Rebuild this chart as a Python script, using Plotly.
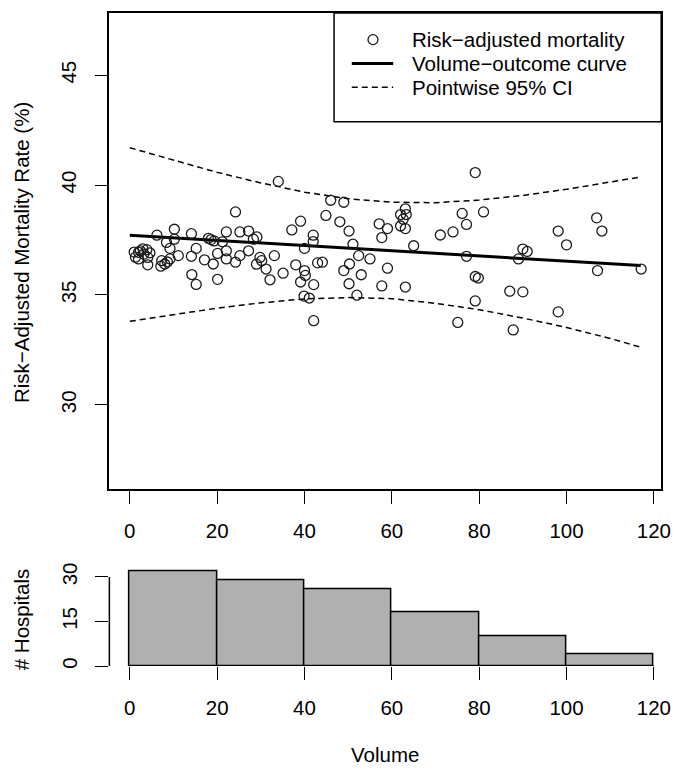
import plotly.graph_objects as go

# ---------------- data ----------------
volume = [6.2, 10.2, 8.4, 10.2, 9.2, 14.1, 18.0, 19.3, 15.2, 2.4, 3.9, 2.0, 2.0, 4.1, 4.1, 3.2,
          7.3, 7.1, 8.0, 9.2, 11.1, 14.1, 17.1, 19.1, 14.2, 15.2, 1.0, 1.3, 3.0, 4.6, 8.6, 18.6,
          20.1, 20.1, 21.2, 22.1, 22.1, 22.1, 24.2, 24.2, 25.2, 25.2, 27.2, 27.2, 28.3, 29.0, 29.1,
          29.8, 30.2, 31.2, 32.1, 33.1, 34.0, 35.1, 37.1, 38.0, 39.1, 39.1, 40.0, 40.0, 39.9,
          40.2, 41.1, 42.0, 42.0, 42.1, 42.1, 43.0, 44.1, 44.9, 46.0, 48.1, 49.0, 49.0, 50.2, 50.3,
          50.2, 51.1, 52.4, 52.0, 53.0, 55.0, 57.1, 57.7, 57.7, 59.0, 59.0,
          63.1, 62.0, 63.3, 62.0, 63.1, 62.6, 65.0, 71.1, 74.0, 76.1, 77.1, 77.1, 63.1, 79.1, 79.1,
          79.8, 79.1, 75.1,
          81.0, 87.0, 87.8, 98.1, 90.0, 91.0, 89.0, 90.0, 98.1, 100.0,
          106.9, 108.1, 107.1, 117.1]
mortality = [37.72, 37.99, 37.39, 37.54, 37.12, 37.79, 37.58, 37.46, 37.12, 37.01, 37.06, 36.94, 36.64,
             36.71, 36.37, 36.86, 36.56, 36.31, 36.41, 36.64, 36.79, 36.76, 36.60, 36.41, 35.93, 35.48,
             36.95, 36.72, 37.10, 36.92, 36.50, 37.52,
             35.71, 36.89, 37.42, 37.87, 37.01, 36.64, 38.78, 36.49, 37.87, 36.79, 37.91, 37.01, 37.54,
             36.40, 37.64, 36.71, 36.56, 36.18, 35.69, 36.79, 40.17, 35.99, 37.96, 36.37, 38.36, 35.59,
             37.12, 36.11, 34.95,
             35.89, 34.86, 37.72, 37.43, 35.47, 33.83, 36.46, 36.49, 38.62, 39.31, 38.33, 39.22, 36.11,
             37.91, 36.41, 35.51, 37.31, 36.79, 34.99, 35.92, 36.64, 38.24, 37.61, 35.41, 38.02, 36.22,
             38.92, 38.66, 38.66, 38.14, 38.02, 38.45, 37.24, 37.73, 37.87, 38.71, 38.21, 36.76, 35.36,
             40.57, 35.84, 35.77, 34.73, 33.75,
             38.78, 35.17, 33.41, 37.91, 37.09, 36.98, 36.64, 35.14, 34.23, 37.28,
             38.51, 37.91, 36.11, 36.18]

curve_volume = [0, 10, 20, 30, 40, 50, 60, 70, 80, 90, 100, 110, 117]
curve_fit = [37.72, 37.60, 37.48, 37.37, 37.25, 37.13, 37.01, 36.89, 36.78, 36.66, 36.54, 36.42, 36.34]
curve_upper = [41.70, 41.13, 40.58, 40.10, 39.68, 39.38, 39.22, 39.20, 39.32, 39.53, 39.81, 40.14, 40.37]
curve_lower = [33.80, 34.10, 34.40, 34.64, 34.82, 34.88, 34.83, 34.62, 34.33, 33.95, 33.52, 33.02, 32.62]

hist_edges = [0, 20, 40, 60, 80, 100, 120]
hist_counts = [32, 29, 26, 18, 10, 4]

x_ticks = [0, 20, 40, 60, 80, 100, 120]
y_ticks = [30, 35, 40, 45]
hist_y_ticks = [0, 15, 30]

legend_labels = ["Risk\u2212adjusted mortality", "Volume\u2212outcome curve", "Pointwise 95% CI"]
y_title = "Risk\u2212Adjusted Mortality Rate (%)"
hist_y_title = "# Hospitals"
x_title = "Volume"

# ---------------- layout geometry (pixels) ----------------
W, H = 684, 770
FONT = "Liberation Sans, Arial, Helvetica, sans-serif"
FS = 20.5
BOX_L, BOX_R, BOX_T, BOX_B = 111, 671, 8, 489
HIST_BASE = 668          # pixel of count 0
HIST_PPU = 3.0           # pixels per count
HIST_TOP_VAL = 33.28


def px(x):
    return x / W


def py(y):
    return 1 - y / H


ppu = 111 / 5            # main panel: 5 units = 111 px, 45 at 71 px
y_top = 45 + (71 - BOX_T) / ppu
y_bot = 45 - (BOX_B - 71) / ppu
x_range = [-4.68, 121.68]
HIST_T = HIST_BASE - HIST_TOP_VAL * HIST_PPU

fig = go.Figure()

fig.add_trace(go.Scatter(x=curve_volume, y=curve_upper, mode="lines",
                         line=dict(color="black", width=1.5, dash="6px,4px"),
                         xaxis="x", yaxis="y", showlegend=False, hoverinfo="skip"))
fig.add_trace(go.Scatter(x=curve_volume, y=curve_lower, mode="lines",
                         line=dict(color="black", width=1.5, dash="6px,4px"),
                         xaxis="x", yaxis="y", showlegend=False, hoverinfo="skip"))
fig.add_trace(go.Scatter(x=curve_volume, y=curve_fit, mode="lines",
                         line=dict(color="black", width=3),
                         xaxis="x", yaxis="y", showlegend=False))
fig.add_trace(go.Scatter(x=volume, y=mortality, mode="markers",
                         marker=dict(symbol="circle-open", size=10, color="#1a1a1a",
                                     line=dict(width=1.3, color="#1a1a1a")),
                         xaxis="x", yaxis="y", showlegend=False))

centers = [(a + b) / 2 for a, b in zip(hist_edges[:-1], hist_edges[1:])]
widths = [b - a for a, b in zip(hist_edges[:-1], hist_edges[1:])]
fig.add_trace(go.Bar(x=centers, y=hist_counts, width=widths,
                     marker=dict(color="#b0b0b0", line=dict(color="black", width=1.5)),
                     xaxis="x2", yaxis="y2", showlegend=False))

tickfont = dict(family=FONT, size=FS, color="black")
common_ax = dict(showgrid=False, zeroline=False, ticks="outside", ticklen=13, tickwidth=1.2,
                 tickcolor="black", tickfont=tickfont)

fig.update_layout(
    width=W, height=H,
    margin=dict(l=0, r=0, t=0, b=0),
    paper_bgcolor="white", plot_bgcolor="white",
    showlegend=False,
    bargap=0,
    xaxis=dict(domain=[px(BOX_L), px(BOX_R)], range=x_range, anchor="y",
               tickvals=x_ticks, ticklabelstandoff=10,
               showline=True, mirror=True, linecolor="black", linewidth=1.5, **common_ax),
    yaxis=dict(domain=[py(BOX_B), py(BOX_T)], range=[y_bot, y_top], anchor="x",
               tickvals=y_ticks, tickangle=-90, ticklabelstandoff=10,
               showline=True, mirror=True, linecolor="black", linewidth=1.5, **common_ax),
    xaxis2=dict(domain=[px(BOX_L), px(BOX_R)], range=x_range, anchor="y2",
                tickvals=x_ticks, ticklabelstandoff=10, showline=False, **common_ax),
    yaxis2=dict(domain=[py(HIST_BASE), py(HIST_T)], range=[0, HIST_TOP_VAL], anchor="x2",
                tickvals=hist_y_ticks, tickangle=-90, ticklabelstandoff=10,
                showline=False, **common_ax),
)

shapes = []
shapes.append(dict(type="line", xref="x2", yref="y2", x0=x_ticks[0], x1=x_ticks[-1],
                   y0=0, y1=0, line=dict(color="black", width=2)))
shapes.append(dict(type="line", xref="x2 domain", yref="y2", x0=0, x1=0,
                   y0=hist_y_ticks[0], y1=hist_y_ticks[-1], line=dict(color="black", width=1.5)))

LG_L, LG_R, LG_T, LG_B = 339, 671, 8, 118
shapes.append(dict(type="rect", xref="paper", yref="paper", x0=px(LG_L), x1=px(LG_R),
                   y0=py(LG_B), y1=py(LG_T), line=dict(color="black", width=1.5),
                   fillcolor="white", layer="above"))
rows = [35, 59, 83]
shapes.append(dict(type="circle", xref="paper", yref="paper",
                   x0=px(373.5), x1=px(383.5), y0=py(rows[0] + 5), y1=py(rows[0] - 5),
                   line=dict(color="#1a1a1a", width=1.3), layer="above"))
shapes.append(dict(type="line", xref="paper", yref="paper", x0=px(357), x1=px(399),
                   y0=py(rows[1]), y1=py(rows[1]), line=dict(color="black", width=3), layer="above"))
shapes.append(dict(type="line", xref="paper", yref="paper", x0=px(357), x1=px(399),
                   y0=py(rows[2]), y1=py(rows[2]),
                   line=dict(color="black", width=1.5, dash="6px,4px"), layer="above"))
fig.update_layout(shapes=shapes)

annotations = []
for lab, r in zip(legend_labels, rows):
    annotations.append(dict(text=lab, xref="paper", yref="paper", x=px(416), y=py(r),
                            xanchor="left", yanchor="middle", showarrow=False,
                            font=dict(family=FONT, size=FS, color="black")))
annotations.append(dict(text=y_title, xref="paper", yref="paper", x=px(22), y=py(250),
                        xanchor="center", yanchor="middle", textangle=-90, showarrow=False,
                        font=dict(family=FONT, size=FS, color="black")))
annotations.append(dict(text=hist_y_title, xref="paper", yref="paper", x=px(22), y=py(621),
                        xanchor="center", yanchor="middle", textangle=-90, showarrow=False,
                        font=dict(family=FONT, size=FS, color="black")))
annotations.append(dict(text=x_title, xref="paper", yref="paper", x=px(391), y=py(757),
                        xanchor="center", yanchor="middle", showarrow=False,
                        font=dict(family=FONT, size=FS, color="black")))
fig.update_layout(annotations=annotations)

fig.write_html("out.html", config={"displayModeBar": False},
               post_script="document.body.style.margin='0px';")
